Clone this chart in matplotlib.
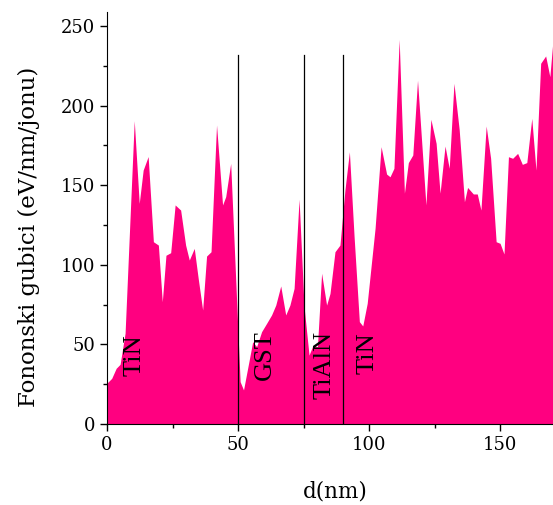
import matplotlib
matplotlib.use("Agg")
import matplotlib.pyplot as plt
from matplotlib.ticker import MultipleLocator

d_nm = [0, 1.8, 3.5, 5, 6.9, 10.4, 12.3, 13.8, 15.7, 17.7, 19.6, 21.1, 22.5, 24.3, 26, 28.1,
        30, 31.4, 33.3, 34.8, 36.5, 38, 39.7, 41.8, 44.1, 45.3, 47.2, 50.8, 52.1, 55.6, 57.1,
        59, 60.9, 62.8, 64.4, 66.3, 68.2, 69.8, 71.4, 73.3, 75.2, 77.1, 78.5, 80.3, 81.9,
        83.8, 85.1, 87, 88.9, 90.8, 92.5, 94.3, 96.3, 97.6, 99.3, 102.3, 104.6, 106.7, 108,
        109.5, 111.5, 113.5, 115, 116.7, 118.5, 121.7, 123.6, 125.6, 127.1, 129, 130.6, 132.4,
        134.4, 136.4, 137.6, 139.8, 141.3, 142.7, 144.7, 146.4, 148.5, 150, 151.5, 153.2,
        154.8, 156.7, 158.5, 160.2, 162.1, 163.7, 165.5, 167.4, 169, 170.2]
losses = [25.7, 28.7, 35, 37.5, 57, 190.5, 138.6, 159.5, 168, 114.5, 112.4, 76.8, 106, 107.6,
          137.6, 134.4, 112.4, 103, 110.3, 91.5, 71.6, 105.5, 108.2, 187.8, 137.6, 142.8, 163.7,
          26.6, 21.4, 51.7, 48.6, 58, 63.2, 68.5, 74.7, 86.7, 68.5, 74.7, 85.2, 141.2, 73.7,
          43.3, 49, 48.6, 94.7, 74.7, 82, 108.2, 112.4, 147, 171, 117.6, 64.3, 61.6, 75.8,
          122.9, 174.2, 157, 155.3, 160.6, 241.6, 145, 164.2, 169, 216, 137.6, 191.4, 176.3,
          145, 174.6, 160.6, 214, 185, 139.6, 148.6, 144.5, 144.5, 134.4, 187.2, 166.9, 114.5,
          113.5, 106.8, 167.9, 166.9, 170, 163.1, 164.2, 192, 159.5, 226.6, 231.2, 218.2, 241.2]

boundaries = [50, 75, 90]
boundary_top = 232
layer_names = ["TiN", "GST", "TiAlN", "TiN"]
layer_x = [10.7, 60.3, 83.2, 99.4]
layer_y = [43.3, 43.3, 37, 44.5]

fig = plt.figure(figsize=(5.53, 5.05), dpi=100)
ax = fig.add_axes([0.1935, 0.1604, 0.8065, 0.8158])

ax.fill_between(d_nm, losses, 0, color="#FF0080", linewidth=0)
for b in boundaries:
    ax.plot([b, b], [0, boundary_top], color="black", linewidth=0.9)

for name, x, y in zip(layer_names, layer_x, layer_y):
    ax.text(x, y, name, rotation=90, ha="center", va="center",
            fontsize=19, family="Liberation Serif")

ax.set_xlim(0, 170.2)
ax.set_ylim(0, 258.8)
ax.xaxis.set_major_locator(MultipleLocator(50))
ax.xaxis.set_minor_locator(MultipleLocator(25))
ax.yaxis.set_major_locator(MultipleLocator(50))
ax.yaxis.set_minor_locator(MultipleLocator(25))
ax.tick_params(which="major", direction="out", length=5, width=1, labelsize=13)
ax.tick_params(which="minor", direction="out", length=3, width=1)
for lab in ax.get_xticklabels() + ax.get_yticklabels():
    lab.set_family("DejaVu Serif")
ax.spines["top"].set_visible(False)
ax.spines["right"].set_visible(False)

ax.set_xlabel("d(nm)", fontsize=15.5, family="DejaVu Serif")
ax.set_ylabel("Fononski gubici (eV/nm/jonu)", fontsize=16.5, family="DejaVu Serif")
ax.xaxis.set_label_coords(0.511, -0.138)
ax.yaxis.set_label_coords(-0.150, 0.454)

fig.savefig("out.png", dpi=100)
